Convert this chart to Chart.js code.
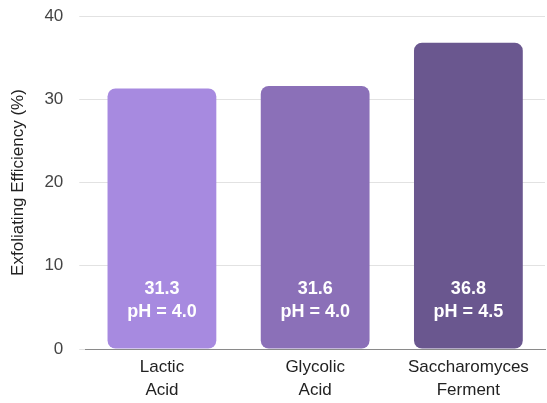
<!DOCTYPE html>
<html>
<head>
<meta charset="utf-8">
<script src="https://cdn.jsdelivr.net/npm/chart.js@4/dist/chart.umd.min.js"></script>
<style>
  html, body { margin: 0; padding: 0; background: #fff; }
  #wrap { width: 547px; height: 403px; }
</style>
</head>
<body>
<div id="wrap"><canvas id="chart"></canvas></div>
<script>
const categories = [['Lactic', 'Acid'], ['Glycolic', 'Acid'], ['Saccharomyces', 'Ferment']];
const efficiency = [31.3, 31.6, 36.8];
const phValues = ['4.0', '4.0', '4.5'];
const yTicks = [0, 10, 20, 30, 40];
const barColors = ['#a78ae0', '#8b70b8', '#6a578f'];

// white labels near the bottom of each bar
const insideLabels = {
  id: 'insideLabels',
  afterDatasetsDraw(chart) {
    const ctx = chart.ctx;
    const meta = chart.getDatasetMeta(0);
    ctx.save();
    ctx.fillStyle = '#ffffff';
    ctx.font = 'bold 18px "Liberation Sans", Arial, sans-serif';
    ctx.textAlign = 'center';
    ctx.textBaseline = 'middle';
    meta.data.forEach((bar, i) => {
      ctx.fillText(efficiency[i].toFixed(1), bar.x, bar.base - 59);
      ctx.fillText('pH = ' + phValues[i], bar.x, bar.base - 36);
    });
    ctx.restore();
  }
};

new Chart(document.getElementById('chart'), {
  type: 'bar',
  data: {
    labels: categories,
    datasets: [{
      data: efficiency,
      backgroundColor: barColors,
      borderRadius: 8,
      borderSkipped: false,
      categoryPercentage: 1,
      barPercentage: 0.71
    }]
  },
  options: {
    responsive: true,
    maintainAspectRatio: false,
    animation: false,
    layout: { padding: { top: 0, right: 2, left: 8, bottom: 0 } },
    plugins: { legend: { display: false }, tooltip: { enabled: false } },
    scales: {
      x: {
        afterFit(s) { s.height = 54; },
        grid: { display: false, drawTicks: false },
        border: { color: '#8a8a8a', width: 1 },
        ticks: {
          color: '#222',
          padding: 7,
          font: { family: '"Liberation Sans", Arial, sans-serif', size: 17, lineHeight: 1.35 }
        }
      },
      y: {
        min: 0,
        max: 40,
        afterFit(s) { s.paddingTop = 16; },
        afterBuildTicks(axis) { axis.ticks = yTicks.map(v => ({ value: v })); },
        grid: { color: '#e2e2e2', tickLength: 6 },
        border: { display: false },
        ticks: {
          color: '#444',
          padding: 16,
          font: { family: '"Liberation Sans", Arial, sans-serif', size: 17 }
        },
        title: {
          display: true,
          text: 'Exfoliating Efficiency (%)',
          color: '#222',
          padding: 0,
          font: { family: '"Liberation Sans", Arial, sans-serif', size: 17 }
        }
      }
    }
  },
  plugins: [insideLabels]
});
</script>
</body>
</html>
